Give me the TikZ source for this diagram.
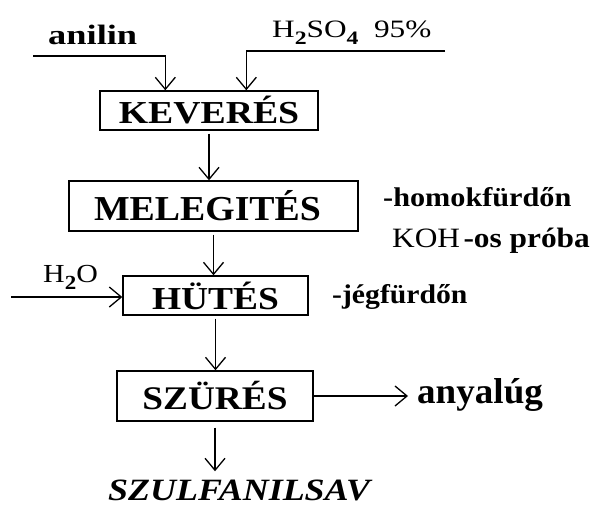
\documentclass[tikz,border=0pt]{standalone}
\usepackage{fontspec}
\setmainfont{Liberation Serif}
\usetikzlibrary{arrows.meta}
\newcommand{\hs}[2]{\scalebox{#1}[1]{#2}}
\newcommand{\fs}[1]{\fontsize{#1}{#1}\selectfont}
\newcommand{\lowsub}[3]{\raisebox{-#2}{\fs{#1}#3}}
\tikzset{
  box/.style={draw, line width=1.4bp, inner sep=0pt},
  txt/.style={inner sep=0pt, anchor=base west},
  arr/.style={line width=1.3bp, -{Straight Barb[length=12bp,width=20bp,line width=1.3bp]}}
}
\begin{document}
\begin{tikzpicture}[x=1bp,y=-1bp]
\useasboundingbox (0,0) rectangle (595,506);
% boxes
\node[box, minimum width=218bp, minimum height=39bp] (kev) at (209,110.5)
  {\fs{32bp}\bfseries\hs{1.18}{KEVERÉS}};
\node[box, minimum width=289bp, minimum height=50bp] (mel) at (213.5,206)
  {\hspace*{-12bp}\fs{35bp}\bfseries\hs{1.08}{MELEGITÉS}};
\node[box, minimum width=185bp, minimum height=39bp] (hut) at (215.5,295.5)
  {\fs{32bp}\bfseries\hs{1.17}{HÜTÉS}};
\node[box, minimum width=196bp, minimum height=50bp] (szu) at (215,396)
  {\fs{33bp}\bfseries\hs{1.13}{SZÜRÉS}};
% labels
\node[txt] (anilin) at (48,45) {\fs{28bp}\bfseries\hs{1.3}{anilin}};
\node[txt] (acid) at (272,38) {\fs{25bp}\hs{1.25}{H\lowsub{19bp}{7bp}{\bfseries 2}SO\lowsub{19bp}{7bp}{\bfseries 4}\ \ 95\%}};
\node[txt] (homok) at (383,207) {\fs{27bp}\bfseries\hs{1.12}{-homokfürdőn}};
\node[txt] (koh) at (392,247) {\hs{1.12}{\fs{28bp}KOH\kern3bp\bfseries -os próba}};
\node[txt] (jeg) at (332,303) {\fs{27bp}\bfseries\hs{1.1}{-jégfürdőn}};
\node[txt] (water) at (43,282) {\fs{26bp}\hs{1.15}{H\lowsub{20bp}{7bp}{\bfseries 2}O}};
\node[txt] (any) at (417,403) {\fs{36bp}\bfseries\hs{1.03}{anyalúg}};
\node[txt] (prod) at (108,500) {\fs{31bp}\bfseries\itshape\hs{1.16}{SZULFANILSAV}};
% free ends
\coordinate (anS) at (33,56);
\coordinate (acS) at (445,51);
\coordinate (wS) at (11,297);
% connectors
\draw[arr] (anS) -| ([xshift=66bp]kev.north west);
\draw[arr] (acS) -| ([xshift=147bp]kev.north west);
\draw[arr, shorten <=3bp] (kev.south) -- (kev.south |- mel.north);
\draw[arr, shorten <=3bp] (mel.south) -- (mel.south |- hut.north);
\draw[arr] (wS) -- (wS -| hut.west);
\draw[arr, shorten <=3bp] (hut.south) -- (hut.south |- szu.north);
\draw[arr, shorten >=9bp] (szu.east) -- (szu.east -| any.west);
\draw[arr, shorten <=6bp, shorten >=8bp] (szu.south) -- (szu.south |- prod.north);
\end{tikzpicture}
\end{document}
